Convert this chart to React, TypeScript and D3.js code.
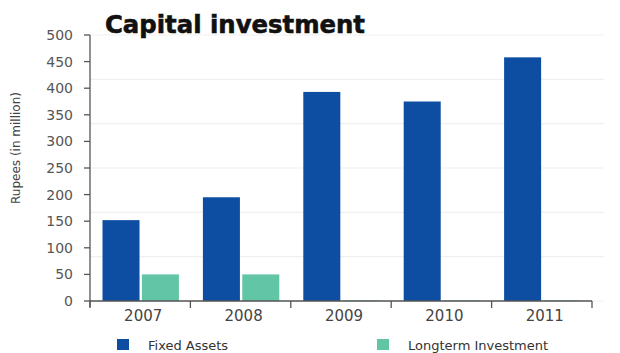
import React from "react";
import * as d3 from "d3";

const years = ["2007", "2008", "2009", "2010", "2011"];
const seriesNames = ["Fixed Assets", "Longterm Investment"];
const fixedAssets = [152, 195, 393, 375, 458];
const longtermInvestment = [50, 50, 1, 1, 1];
const yTicks = [0, 50, 100, 150, 200, 250, 300, 350, 400, 450, 500];
const colors = ["#0d4ea3", "#62c5a5"];

const W = 620;
const H = 353;
const left = 90;
const right = 592;
const top = 35;
const bottom = 301;

export default function App() {
  const x0 = d3.scaleBand<string>().domain(years).range([left, right]).padding(0);
  const bw = x0.bandwidth();
  const x1 = d3
    .scaleBand<string>()
    .domain(seriesNames)
    .range([12.5, bw - 11.5])
    .paddingInner(0.06);
  const y = d3.scaleLinear().domain([0, 500]).range([bottom, top]);
  const grid = d3.range(0, 7).map((i) => (500 * i) / 6);
  const values = [fixedAssets, longtermInvestment];
  const font = "'DejaVu Sans', sans-serif";

  return (
    <svg
      width={W}
      height={H}
      style={{ position: "absolute", left: 0, top: 0, background: "#fff" }}
    >
      <rect x={0} y={0} width={W} height={H} fill="#fff" />
      {grid.map((g, i) => (
        <line
          key={"g" + i}
          x1={left}
          x2={604}
          y1={y(g)}
          y2={y(g)}
          stroke="#efefef"
          strokeWidth={1.2}
        />
      ))}
      {years.map((yr, i) =>
        seriesNames.map((s, j) => {
          const v = values[j][i];
          return (
            <rect
              key={yr + s}
              x={(x0(yr) as number) + (x1(s) as number)}
              y={y(v)}
              width={x1.bandwidth()}
              height={bottom - y(v)}
              fill={colors[j]}
            />
          );
        })
      )}
      {/* y axis */}
      <line x1={left} x2={left} y1={top} y2={bottom + 6} stroke="#555" strokeWidth={1.3} />
      {yTicks.map((t) => (
        <g key={"yt" + t}>
          <line x1={left - 6} x2={left} y1={y(t)} y2={y(t)} stroke="#555" strokeWidth={1.3} />
          <text
            x={left - 17}
            y={y(t)}
            dy="0.35em"
            textAnchor="end"
            fontSize={14}
            fill="#555"
            fontFamily={font}
          >
            {t}
          </text>
        </g>
      ))}
      {/* x axis */}
      <line x1={left} x2={right} y1={bottom} y2={bottom} stroke="#555" strokeWidth={1.3} />
      {[...years.map((yr) => x0(yr) as number), right].map((xv, i) => (
        <line key={"xt" + i} x1={xv} x2={xv} y1={bottom} y2={bottom + 7} stroke="#555" strokeWidth={1.3} />
      ))}
      {years.map((yr) => (
        <text
          key={"xl" + yr}
          x={(x0(yr) as number) + bw / 2 + 3}
          y={321}
          textAnchor="middle"
          fontSize={15}
          fill="#444"
          fontFamily={font}
        >
          {yr}
        </text>
      ))}
      {/* y label */}
      <text
        transform="translate(20,148) rotate(-90)"
        textAnchor="middle"
        fontSize={12}
        fill="#444"
        fontFamily={font}
      >
        Rupees (in million)
      </text>
      {/* title */}
      <text
        x={105}
        y={33}
        fontSize={25}
        fontWeight="bold"
        fill="#111"
        stroke="#111"
        strokeWidth={0.6}
        fontFamily={font}
        textLength={260}
        lengthAdjust="spacingAndGlyphs"
      >
        Capital investment
      </text>
      {/* legend */}
      {seriesNames.map((s, j) => {
        const lx = j === 0 ? 117 : 377;
        return (
          <g key={"lg" + s}>
            <rect x={lx} y={339} width={12} height={11} fill={colors[j]} />
            <text x={lx + 31} y={345} dy="0.35em" fontSize={13} fill="#333" fontFamily={font}>
              {s}
            </text>
          </g>
        );
      })}
    </svg>
  );
}
